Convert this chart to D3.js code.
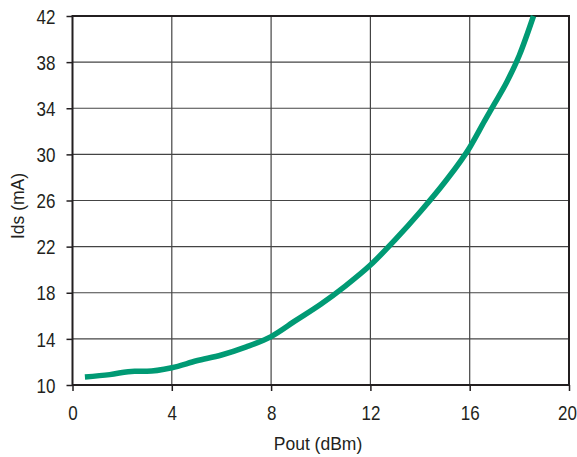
<!DOCTYPE html>
<html>
<head>
<meta charset="utf-8">
<script src="https://cdn.jsdelivr.net/npm/d3@7"></script>
<style>
  body { margin: 0; background: #fff; }
  .tick text { font-family: "Liberation Sans", Arial, sans-serif; font-size: 20px; fill: #231f20; }
  .label { font-family: "Liberation Sans", Arial, sans-serif; font-size: 17.5px; fill: #231f20; }
</style>
</head>
<body>
<script>
// Ids vs Pout curve
var pout = [0.5, 1.5, 2.5, 3.0, 4.0, 5.0, 6.0, 7.0, 8.0, 9.0, 10.0, 11.0, 12.0, 13.0, 14.0, 15.0, 16.0, 16.6, 17.0, 17.5, 18.0, 18.57];
var ids  = [10.7, 10.9, 11.2, 11.2, 11.5, 12.1, 12.6, 13.3, 14.2, 15.6, 17.0, 18.6, 20.4, 22.6, 25.0, 27.6, 30.6, 32.9, 34.4, 36.3, 38.6, 42.0];

var xTicks = [0, 4, 8, 12, 16, 20];
var yTicks = [10, 14, 18, 22, 26, 30, 34, 38, 42];

var margin = {left: 72.5, right: 8, top: 16, bottom: 72},
    width = 577 - margin.left - margin.right,
    height = 457 - margin.top - margin.bottom;

var squeeze = 0.85; // tick font is a narrow face

var svg = d3.select("body")
    .append("svg")
    .attr("width", 577)
    .attr("height", 457)
    .append("g")
    .attr("transform", "translate(" + margin.left + "," + margin.top + ")");

var xScale = d3.scaleLinear().domain([0, 20]).range([0, width]);
var yScale = d3.scaleLinear().domain([10, 42]).range([height, 0]);

//grid lines
svg.selectAll(".vgrid")
    .data(xTicks.slice(1, -1))
    .enter().append("line")
    .attr("x1", function(d) { return xScale(d); })
    .attr("x2", function(d) { return xScale(d); })
    .attr("y1", 0).attr("y2", height)
    .style("stroke", "#444").style("stroke-width", 1.2);

svg.selectAll(".hgrid")
    .data(yTicks.slice(1, -1))
    .enter().append("line")
    .attr("y1", function(d) { return yScale(d); })
    .attr("y2", function(d) { return yScale(d); })
    .attr("x1", 0).attr("x2", width)
    .style("stroke", "#444").style("stroke-width", 1.2);

//frame
svg.append("rect")
    .attr("width", width).attr("height", height)
    .style("fill", "none").style("stroke", "#231f20").style("stroke-width", 2);

//axes
var xAxis = d3.axisBottom(xScale).tickValues(xTicks).tickSize(6).tickPadding(15);
var yAxis = d3.axisLeft(yScale).tickValues(yTicks).tickSize(6).tickPadding(11);

var gx = svg.append("g")
    .attr("class", "x axis")
    .attr("transform", "translate(0," + height + ")")
    .call(xAxis)
    .call(function(g) { g.select(".domain").remove(); });
gx.selectAll("line").style("stroke", "#231f20").style("stroke-width", 1.5);
gx.selectAll("text").attr("transform", "scale(" + squeeze + ",1)");
// last label sits against the page edge
gx.selectAll("text").filter(function(d) { return d === 20; })
    .attr("text-anchor", "end")
    .attr("x", 7.5 / squeeze);

var gy = svg.append("g")
    .attr("class", "y axis")
    .call(yAxis)
    .call(function(g) { g.select(".domain").remove(); });
gy.selectAll("line").style("stroke", "#231f20").style("stroke-width", 1.5);
gy.selectAll("text")
    .attr("x", -17 / squeeze)
    .attr("dy", "0.36em")
    .attr("transform", "scale(" + squeeze + ",1)");

//curve
var line = d3.line()
    .x(function(d, i) { return xScale(pout[i]); })
    .y(function(d) { return yScale(d); })
    .curve(d3.curveMonotoneX);

svg.append("path")
    .datum(ids)
    .attr("d", line)
    .style("fill", "none")
    .style("stroke", "#009a74")
    .style("stroke-width", 5.5)
    .style("stroke-linecap", "butt");

//axis labels
svg.append("text")
    .attr("class", "label")
    .attr("x", 318 - margin.left)
    .attr("y", 450 - margin.top)
    .style("text-anchor", "middle")
    .text("Pout (dBm)");

svg.append("text")
    .attr("class", "label")
    .attr("transform", "rotate(-90)")
    .attr("x", -(206 - margin.top))
    .attr("y", 24 - margin.left)
    .style("text-anchor", "middle")
    .text("Ids (mA)");
</script>
</body>
</html>
